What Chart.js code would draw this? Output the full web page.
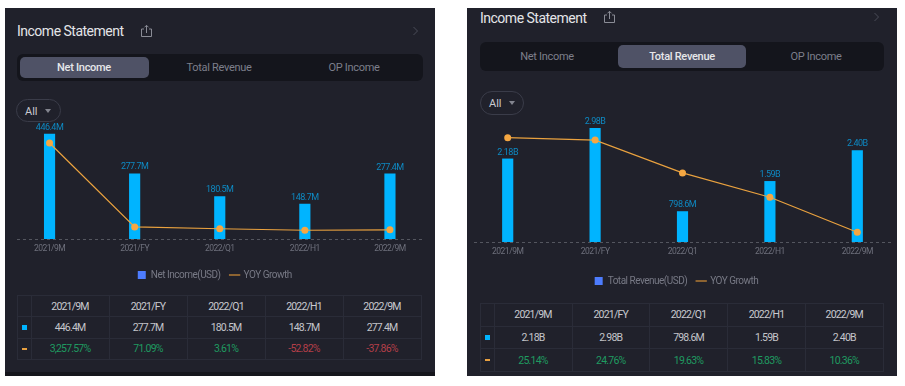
<!DOCTYPE html>
<html><head><meta charset="utf-8">
<script src="https://cdn.jsdelivr.net/npm/chart.js@4"></script>
<style>
html,body{margin:0;padding:0;background:#fff;width:905px;height:386px;overflow:hidden}
*{box-sizing:border-box}
body{font-family:"Roboto",sans-serif;filter:blur(.3px)}
.abs{position:absolute}
.panel{background:#20212b}
.title{color:#e4e5e8;font-size:14px;letter-spacing:-.5px;line-height:18px;white-space:nowrap}
.tabs{background:#14151c;border-radius:6px}
.active{background:#4f5266;border-radius:5px}
.tab{font-size:11px;line-height:16px;color:#7d7f8b;transform:translateX(-50%);white-space:nowrap;letter-spacing:-.3px}
.tab.on{color:#e6e7ea;font-weight:500}
.pill{border:1px solid #3a3c49;border-radius:12px;color:#c9cad0;font-size:11px}
.pill span{position:absolute;left:8px;top:50%;transform:translateY(-50%)}
.pill i{position:absolute;left:28px;top:50%;margin-top:-2px;border-left:3px solid transparent;border-right:3px solid transparent;border-top:4px solid #83858f}
table{position:absolute;border-collapse:collapse;table-layout:fixed;font-size:10.5px;color:#c4c5ca;letter-spacing:-.8px}
td{border:1px solid #2a2c38;padding:0;text-align:center}
td.h{color:#c9cad0}
.up{color:#1f9a60}.down{color:#b43f49}
.sq{display:block;width:5px;height:5px;background:#00b4ff;margin:auto}
.ds{display:block;width:5px;height:2px;background:#e8a040;margin:auto}
canvas{position:absolute}
</style></head><body>

<div class="abs panel" style="left:5px;top:8px;width:430px;height:368px"></div>
<div class="abs" style="left:5px;top:372px;width:430px;height:4px;background:#15161c"></div>
<div class="abs panel" style="left:467px;top:8px;width:430px;height:368px"></div>

<div class="abs title" style="left:17px;top:22px">Income Statement</div>
<div class="abs title" style="left:480px;top:9px">Income Statement</div>

<svg class="abs" style="left:140px;top:24px" width="13" height="14" viewBox="0 0 13 14" fill="none" stroke="#8a8c96" stroke-width="1"><path d="M4 5H1.5v7.5h10V5H9M6.5 9V1.5M4.5 3.3l2-2 2 2"/></svg>
<svg class="abs" style="left:603px;top:10px" width="13" height="14" viewBox="0 0 13 14" fill="none" stroke="#8a8c96" stroke-width="1"><path d="M4 5H1.5v7.5h10V5H9M6.5 9V1.5M4.5 3.3l2-2 2 2"/></svg>
<svg class="abs" style="left:412px;top:26px" width="7" height="10" viewBox="0 0 7 10" fill="none" stroke="#4a4c58" stroke-width="1"><path d="M1.5 1l4 4-4 4"/></svg>
<svg class="abs" style="left:873px;top:12px" width="7" height="10" viewBox="0 0 7 10" fill="none" stroke="#4a4c58" stroke-width="1"><path d="M1.5 1l4 4-4 4"/></svg>

<div class="abs tabs" style="left:17px;top:54px;width:406px;height:27px"></div>
<div class="abs active" style="left:20px;top:57px;width:129px;height:21px"></div>
<div class="abs tab on" style="left:84px;top:60px">Net Income</div>
<div class="abs tab" style="left:219px;top:60px">Total Revenue</div>
<div class="abs tab" style="left:354px;top:60px">OP Income</div>

<div class="abs tabs" style="left:480px;top:42px;width:404px;height:29px"></div>
<div class="abs active" style="left:618px;top:45px;width:128px;height:23px"></div>
<div class="abs tab" style="left:547px;top:49px">Net Income</div>
<div class="abs tab on" style="left:682px;top:49px">Total Revenue</div>
<div class="abs tab" style="left:816px;top:49px">OP Income</div>

<div class="abs pill" style="left:16px;top:99px;width:45px;height:23px"><span>All</span><i></i></div>
<div class="abs pill" style="left:480px;top:91px;width:44px;height:24px"><span>All</span><i></i></div>

<canvas id="leftChart" style="left:0;top:110px"></canvas>
<canvas id="rightChart" style="left:460px;top:110px"></canvas>

<div id="leftTable"></div>
<div id="rightTable"></div>

<script>
const periods = ['2021/9M','2021/FY','2022/Q1','2022/H1','2022/9M'];
const netIncome = [446.4,277.7,180.5,148.7,277.4];
const netIncomeText = ['446.4M','277.7M','180.5M','148.7M','277.4M'];
const netIncomeGrowth = [3257.57,71.09,3.61,-52.82,-37.86];
const revenue = [2.18,2.98,0.7986,1.59,2.40];
const revenueText = ['2.18B','2.98B','798.6M','1.59B','2.40B'];
const revenueGrowth = [25.14,24.76,19.63,15.83,10.36];

const BAR='#00b4ff', LINE='#eaa23f', FONT='"Roboto",sans-serif', SPACING='-0.5px';

const tightText = {
  id:'tightText',
  beforeUpdate(chart){chart.ctx.letterSpacing=SPACING;},
  beforeDraw(chart){chart.ctx.letterSpacing=SPACING;},
  afterLayout(chart,args,opts){chart.legend.left+=opts.legendShift;chart.legend.right+=opts.legendShift;}
};
const valueLabels = {
  id:'valueLabels',
  afterDatasetsDraw(chart,args,opts){
    const ctx=chart.ctx, meta=chart.getDatasetMeta(1);
    ctx.save();
    ctx.font='9px '+FONT; ctx.fillStyle='#0e89c2'; ctx.textAlign='center'; ctx.textBaseline='middle';
    meta.data.forEach((b,i)=>ctx.fillText(opts.text[i],b.x,b.y-6.5));
    ctx.restore();
  }
};
const dashedBase = {
  id:'dashedBase',
  beforeDatasetsDraw(chart){
    const {ctx,chartArea:a}=chart, y=chart.scales.y.getPixelForValue(0);
    ctx.save();ctx.strokeStyle='#54565f';ctx.lineWidth=1;ctx.setLineDash([3,3]);
    ctx.beginPath();ctx.moveTo(a.left+10,y+.5);ctx.lineTo(a.right-10,y+.5);ctx.stroke();ctx.restore();
  }
};

function build(id,o){
  const cv=document.getElementById(id);
  return new Chart(cv,{
    data:{labels:periods,datasets:[
      {type:'line',label:'YOY Growth',data:o.growth,yAxisID:'g',order:0,borderColor:LINE,borderWidth:1.2,
       pointRadius:3.5,pointBackgroundColor:'#f5a742',pointBorderWidth:0,tension:0},
      {type:'bar',label:o.name,data:o.values,yAxisID:'y',order:1,backgroundColor:BAR,barThickness:o.bar}
    ]},
    plugins:[tightText,valueLabels,dashedBase],
    options:{
      responsive:false,animation:false,
      layout:{padding:o.padding},
      scales:{
        x:{grid:{display:false,drawTicks:false},border:{display:false},
           ticks:{color:'#6e707c',font:{size:8.5,family:FONT},padding:o.tickPad,maxRotation:0},
           afterFit(s){s.height=o.axisH;}},
        y:{display:false,min:0,max:o.yMax},
        g:{display:false,min:o.gMin,max:o.gMax}
      },
      plugins:{
        tooltip:{enabled:false},
        valueLabels:{text:o.text},
        tightText:{legendShift:o.legendShift},
        legend:{position:'bottom',
          labels:{color:'#777985',font:{size:10,family:FONT},usePointStyle:true,boxWidth:8,boxHeight:8,padding:10,
            generateLabels:()=>[
              {text:o.name,fillStyle:'#4d7cfe',strokeStyle:'#4d7cfe',lineWidth:0,pointStyle:'rect',fontColor:'#777985'},
              {text:'YOY Growth',fillStyle:LINE,strokeStyle:'#b07a35',lineWidth:1.5,pointStyle:'line',fontColor:'#777985'}
            ]}}
      }
    }
  });
}

function sizeCanvas(id,w,h){const c=document.getElementById(id);c.width=w;c.height=h;c.style.width=w+'px';c.style.height=h+'px';}
sizeCanvas('leftChart',440,180);
sizeCanvas('rightChart',445,186);

build('leftChart',{name:'Net Income(USD)',values:netIncome,growth:netIncomeGrowth,text:netIncomeText,bar:10.5,
  yMax:502,gMin:-385,gMax:4090,tickPad:5,axisH:21,legendShift:-5,
  padding:{left:7,right:7.5,top:11,bottom:0}});
build('rightChart',{name:'Total Revenue(USD)',values:revenue,growth:revenueGrowth,text:revenueText,bar:10.5,
  yMax:3.2,gMin:8.84,gMax:27.9,tickPad:5,axisH:24,legendShift:-5.5,
  padding:{left:3,right:4,top:10,bottom:0}});

function fmt(v){return v.toLocaleString('en-US',{minimumFractionDigits:2,maximumFractionDigits:2})+'%';}
function tbl(host,o){
  const widths=o.cols;
  let h='<table style="left:'+o.x+'px;top:'+o.y+'px;width:'+widths.reduce((a,b)=>a+b)+'px"><colgroup>'+widths.map(w=>'<col style="width:'+w+'px">').join('')+'</colgroup>';
  const row=c=>'<tr style="height:'+o.rh+'px">'+c+'</tr>';
  h+=row('<td></td>'+periods.map(p=>'<td class="h">'+p+'</td>').join(''));
  h+=row('<td><span class="sq"></span></td>'+o.text.map(t=>'<td>'+t+'</td>').join(''));
  h+=row('<td><span class="ds"></span></td>'+o.growth.map(g=>'<td class="'+(g<0?'down':'up')+'">'+fmt(g)+'</td>').join(''));
  document.getElementById(host).innerHTML=h+'</table>';
}
tbl('leftTable',{x:17,y:295,rh:21.33,cols:[13.5,78,78,78,78,78],text:netIncomeText,growth:netIncomeGrowth});
tbl('rightTable',{x:480,y:303,rh:22.67,cols:[13.5,78,77.5,78,78,77.5],text:revenueText,growth:revenueGrowth});
</script>
</body></html>
